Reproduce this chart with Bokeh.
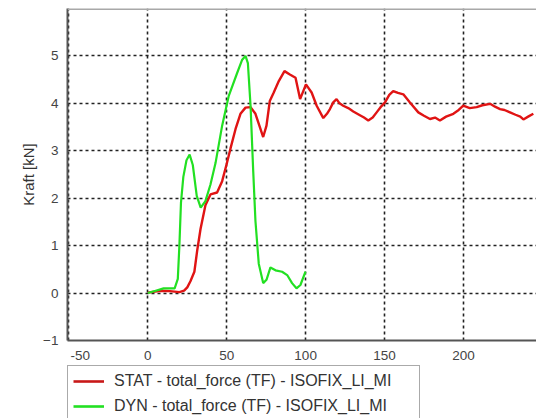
from bokeh.plotting import figure
from bokeh.layouts import column
from bokeh.models import Range1d, FixedTicker, Legend, LegendItem, Span
from bokeh.embed import file_html
from bokeh.resources import INLINE

# ---- data (time in ms, force in kN) ----
t_stat = [0, 8, 14, 20, 23, 25, 27, 29.5, 31.3, 33.4, 36.5, 39.7, 43.9, 47.1, 49.8,
          52.4, 55.6, 58.7, 61.9, 65.1, 68.2, 71.0, 73.1, 75.2, 77.3, 79.8, 83.0,
          86.6, 90.0, 93.6, 96.5, 100.2, 103.8, 107, 111.2, 113.5, 115.4, 117.5, 119.6,
          121.5, 123.8, 127, 130.2, 134.4, 137, 139.7, 142.5, 145, 147.5, 150.3, 153,
          155.5, 158.5, 161.9, 166.1, 171.4, 175, 178.8, 182, 185.1, 189, 193.6,
          197, 199.9, 204, 208.4, 212, 216.9, 220, 223.2, 226, 229.5, 233, 236, 238,
          241, 244.3]
f_stat = [0.01, 0.05, 0.04, 0.02, 0.05, 0.12, 0.25, 0.45, 0.90, 1.35, 1.85, 2.08, 2.12,
          2.36, 2.70, 3.05, 3.46, 3.78, 3.91, 3.92, 3.78, 3.50, 3.29, 3.53, 4.05, 4.23,
          4.47, 4.68, 4.61, 4.54, 4.09, 4.40, 4.23, 3.95, 3.69, 3.78, 3.88, 4.02, 4.09,
          4.00, 3.95, 3.90, 3.83, 3.75, 3.70, 3.64, 3.70, 3.81, 3.92, 4.02, 4.18,
          4.26, 4.22, 4.19, 4.02, 3.81, 3.74, 3.67, 3.70, 3.64, 3.72, 3.78,
          3.86, 3.95, 3.90, 3.92, 3.96, 3.99, 3.93, 3.88, 3.86, 3.81, 3.76, 3.72, 3.66,
          3.72, 3.78]

t_dyn = [0, 5, 10, 17, 19, 20, 21, 22.5, 24.5, 26.5, 28.5, 31, 33.5, 36.5, 39.7, 42.9,
         47.1, 51.3, 56.6, 59.8, 61.9, 63.4, 65.1, 66.8, 68.2, 70.3, 73.1, 75.2, 77.7,
         80.9, 85.1, 88.3, 91.4, 94.2, 96.7, 99.9]
f_dyn = [0.00, 0.05, 0.10, 0.10, 0.30, 1.00, 1.90, 2.45, 2.80, 2.92, 2.70, 2.05, 1.80,
         1.94, 2.29, 2.74, 3.53, 4.16, 4.64, 4.92, 5.00, 4.85, 3.95, 2.56, 1.52, 0.62,
         0.21, 0.28, 0.54, 0.48, 0.45, 0.38, 0.21, 0.10, 0.17, 0.45]

x_ticks = [-50, 0, 50, 100, 150, 200]
y_ticks = [-1, 0, 1, 2, 3, 4, 5]
label_stat = "STAT - total_force (TF) - ISOFIX_LI_MI"
label_dyn = "DYN - total_force (TF) - ISOFIX_LI_MI"
y_title = "Kraft [kN]"

FONT = "Liberation Sans"
RED = "#e01414"
GREEN = "#22e022"

p = figure(width=536, height=365, output_backend="svg", toolbar_location=None,
           x_range=Range1d(-50.9, 246.3), y_range=Range1d(-1, 6),
           min_border_left=67, min_border_top=8, min_border_right=0,
           min_border_bottom=22)
p.outline_line_color = None
p.background_fill_color = "white"
p.border_fill_color = "white"

r_stat = p.line(t_stat, f_stat, line_color=RED, line_width=2.4)
r_dyn = p.line(t_dyn, f_dyn, line_color=GREEN, line_width=2.2)

# axes
for ax in (p.xaxis[0], p.yaxis[0]):
    ax.major_tick_in = 0
    ax.major_tick_out = 0
    ax.minor_tick_line_color = None
    ax.axis_line_color = "#555555"
    ax.axis_line_width = 2
    ax.major_label_text_font = FONT
    ax.major_label_text_font_size = "13.5px"
    ax.major_label_text_color = "#444444"
    ax.major_label_standoff = 9

p.xaxis.ticker = FixedTicker(ticks=x_ticks)
p.yaxis.ticker = FixedTicker(ticks=y_ticks)
# the first label sits right of the frame corner in the reference
p.xaxis.major_label_overrides = {-50: "\u00a0" * 6 + "-50"}
p.xaxis.major_label_standoff = 7

p.yaxis.axis_label = y_title
p.yaxis.axis_label_text_font = FONT
p.yaxis.axis_label_text_font_size = "15px"
p.yaxis.axis_label_text_font_style = "normal"
p.yaxis.axis_label_text_color = "#333333"
p.yaxis.axis_label_standoff = 3

# grid
p.xgrid.ticker = FixedTicker(ticks=x_ticks)
p.ygrid.ticker = FixedTicker(ticks=y_ticks)
for g in (p.xgrid[0], p.ygrid[0]):
    g.grid_line_color = "#222222"
    g.grid_line_width = 1.6
    g.grid_line_dash = "3 3"

# top border
p.add_layout(Span(location=6, dimension="width", line_color="#a8a8a8", line_width=3))

# legend strip under the chart (its frame is aligned with the chart frame)
lf = figure(width=536, height=53, output_backend="svg", toolbar_location=None,
            x_range=Range1d(0, 1), y_range=Range1d(0, 1),
            x_axis_location=None, y_axis_location=None, min_border=0)
lf.outline_line_color = None
lf.xgrid.visible = False
lf.ygrid.visible = False
# keys only: their data lie outside the strip's ranges
lr_stat = lf.line([2, 3], [2, 2], line_color="#c81818", line_width=2.6)
lr_dyn = lf.line([2, 3], [2, 2], line_color=GREEN, line_width=2.6)

legend = Legend(items=[LegendItem(label=label_stat, renderers=[lr_stat]),
                       LegendItem(label=label_dyn, renderers=[lr_dyn])],
                location=(0, -4), orientation="vertical",
                label_text_font=FONT, label_text_font_size="16px",
                label_text_color="#333333",
                border_line_color="#555555", border_line_width=1.5,
                padding=5, spacing=5, label_height=20, glyph_height=20,
                glyph_width=31, label_standoff=10, label_width=300, margin=0)
lf.add_layout(legend)

layout = column(p, lf, spacing=0)
open("out.html", "w").write(file_html(layout, INLINE))
